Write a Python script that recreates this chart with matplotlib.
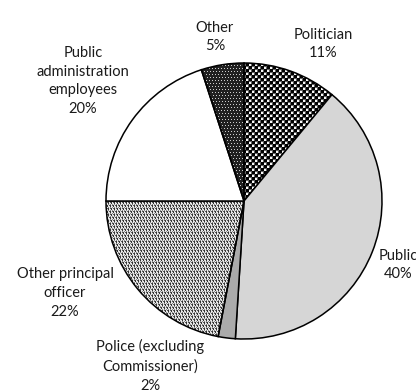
import numpy as np
import matplotlib
matplotlib.use("Agg")
import matplotlib.pyplot as plt

# shares of cases by occupation, clockwise from 12 o'clock
categories = ["Politician", "Public", "Police (excluding\nCommissioner)",
              "Other principal\nofficer", "Public\nadministration\nemployees", "Other"]
shares = [11, 40, 2, 22, 20, 5]

plt.rcParams['font.family'] = ['Lato', 'DejaVu Sans']

W, H = 416, 390
fig = plt.figure(figsize=(W / 100, H / 100), dpi=100)
ax = fig.add_axes([0, 0, 1, 1])

cx, cy, R = 244, 189, 138

# patterned slices get no solid fill, a texture goes underneath
fills = ['none', '#d6d6d6', '#ababab', 'none', 'white', 'none']
wedges, _ = ax.pie(shares, startangle=90, counterclock=False,
                   center=(cx, cy), radius=R, colors=fills,
                   wedgeprops=dict(edgecolor='black', linewidth=1.1),
                   frame=True)

# pixel textures for the patterned slices
yy, xx = np.mgrid[0:H, 0:W]
checker = np.zeros((H, W))
checker[(((xx // 3) + (yy // 3)) % 2 == 1)] = 0.97
checker[(xx % 3 == 2) | (yy % 3 == 2)] *= 0.4
dots_dark = np.full((H, W), 0.13)
dots_dark[(yy % 3 == 0) & ((xx + (yy // 3) % 2) % 3 == 0)] = 0.8
stipple = np.full((H, W), 0.9)
stipple[((xx + (yy // 3) % 2) % 3 == 0) & (yy % 3 != 2)] = 0.2
stipple[(yy % 3 == 1) & ((xx + (yy // 3) % 2) % 3 == 2)] = 0.35
stipple[(yy % 3 == 2) & (xx % 2 == 0)] = 0.55

for idx, tex in [(0, checker), (5, dots_dark), (3, stipple)]:
    im = ax.imshow(tex, cmap='gray', vmin=0, vmax=1, origin='lower',
                   extent=(0, W, 0, H), interpolation='nearest', zorder=0.5)
    im.set_clip_path(wedges[idx])
ax.set_xlim(0, W)
ax.set_ylim(0, H)
ax.set_aspect('equal')
ax.axis('off')

labels = ["Politician\n11%", "Public\n40%", "Police (excluding\nCommissioner)\n2%",
          "Other principal\nofficer\n22%", "Public\nadministration\nemployees\n20%",
          "Other\n5%"]
label_xy = [(323, 346), (398, 125), (150, 24), (65, 97), (83, 309), (215, 353)]
for (lx, ly), t in zip(label_xy, labels):
    ax.text(lx, ly, t, ha='center', va='center', fontsize=10.5,
            linespacing=1.45, color='#1a1a1a')

fig.savefig("out.png", dpi=100)
